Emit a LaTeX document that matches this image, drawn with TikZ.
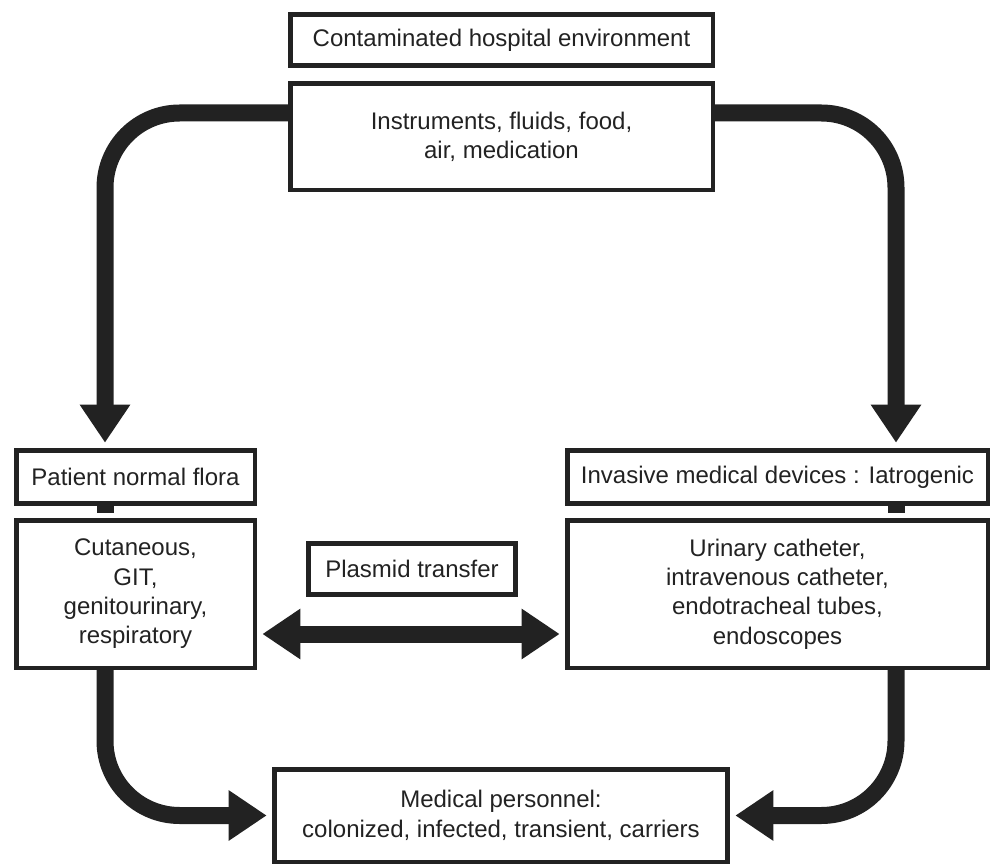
\documentclass[tikz,border=0pt]{standalone}
\usepackage{fontspec}
\setmainfont{Liberation Sans}
\usetikzlibrary{arrows.meta}
\definecolor{ink}{HTML}{222222}

\begin{document}
\begin{tikzpicture}[x=0.75pt,y=-0.75pt,->,>={Triangle[length=28.5pt,width=36pt]},
                    shorten >=4pt,
                    box/.style={draw=ink,line width=3.4pt,inner sep=0pt,align=center,
                                text=ink,font=\fontsize{18}{22}\selectfont},
                    flow/.style={draw=ink,line width=12.75pt,rounded corners=56pt}]

  \useasboundingbox (0,0) rectangle (993,866);

  \node[box,minimum width=316.9pt,minimum height=38.6pt] (E) at (501.5,40)
       {Contaminated hospital environment};
  \node[box,minimum width=316.9pt,minimum height=79.9pt] (I) [below of=E,node distance=72.4pt]
       {Instruments, fluids, food,\\ air, medication};

  \node[box,minimum width=178.9pt,minimum height=40.1pt] (F) at (135.5,477)
       {Patient normal flora};
  \node[box,minimum width=178.9pt,minimum height=110.6pt] (S) [below of=F,node distance=87.8pt]
       {Cutaneous,\\ GIT,\\ genitourinary,\\ respiratory};

  \node[box,minimum width=315.4pt,minimum height=40.1pt] (D) at (777.5,477)
       {Invasive medical devices : Iatrogenic};
  \node[box,minimum width=315.4pt,minimum height=110.6pt] (C) [below of=D,node distance=87.8pt]
       {Urinary catheter,\\ intravenous catheter,\\ endotracheal tubes,\\ endoscopes};

  \node[box,minimum width=155.6pt,minimum height=38.6pt] (T) at (412,569)
       {Plasmid transfer};

  \node[box,minimum width=340.1pt,minimum height=69.4pt] (M) at (501,815.5)
       {Medical personnel:\\ colonized, infected, transient, carriers};

  % spread from the environment
  \draw[flow] (I.west |- 0,113) -| (F.north -| 105,0);
  \draw[flow] (I.east |- 0,113) -| (D.north -| 896,0);
  \draw[flow,-] (F.south -| 105,0) -- (S.north -| 105,0);
  \draw[flow,-] (D.south -| 896,0) -- (C.north -| 896,0);

  % on to the staff
  \draw[flow] (S.south -| 105,0) |- (M);
  \draw[flow] (C.south -| 896,0) |- (M);

  \draw[flow,<->,shorten <=4pt] (S.east |- 0,634) -- (C.west |- 0,634);
\end{tikzpicture}
\end{document}
